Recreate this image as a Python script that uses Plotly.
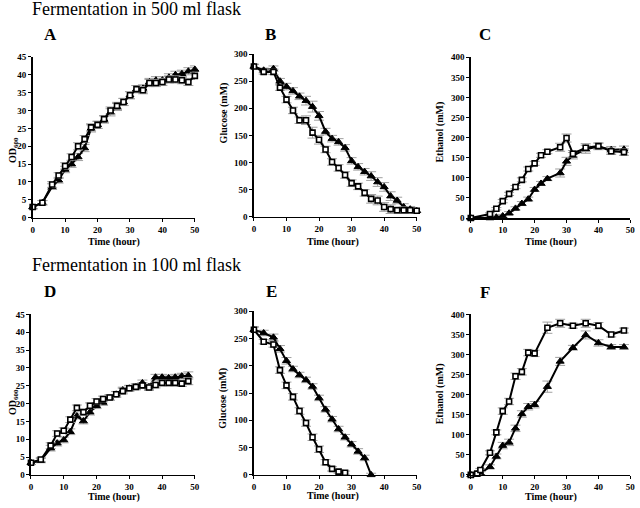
import plotly.graph_objects as go

# ---------------- data ----------------
tA = [0, 3, 6, 8, 10, 12, 14, 16, 18, 20, 22, 24, 26, 28, 30, 32, 34, 36, 38, 40, 42, 44, 46, 48, 50]
od500_sq = [3.0, 4.2, 9.3, 11.8, 14.5, 17.0, 20.0, 22.0, 25.3, 26.0, 27.6, 30.0, 31.3, 32.4, 34.3, 36.0, 35.7, 37.7, 37.7, 38.0, 38.7, 38.7, 38.5, 38.0, 39.7]
od500_tr = [3.0, 4.2, 8.7, 10.5, 13.5, 15.0, 17.0, 19.5, 25.0, 26.0, 27.5, 29.5, 31.0, 32.4, 34.3, 36.0, 36.2, 38.0, 38.5, 38.5, 39.3, 40.0, 40.3, 41.0, 41.5]
od500_err = [0.5, 0.6, 0.8, 0.8, 0.9, 0.9, 1.0, 1.0, 1.0, 1.0, 1.0, 1.0, 1.0, 1.0, 1.0, 1.0, 1.0, 1.0, 1.0, 1.0, 1.0, 1.0, 1.0, 1.0, 1.0]

glc500_sq = [277, 267, 267, 238, 216, 196, 178, 178, 155, 142, 124, 101, 90, 77, 62, 56, 44, 33, 30, 18, 14, 12, 12, 12, 11]
glc500_tr = [277, 270, 273, 250, 240, 232, 222, 214, 203, 186, 157, 144, 138, 127, 103, 92, 83, 75, 64, 55, 38, 30, 18, 14, 11]
glc500_err = [4, 4, 5, 5, 6, 6, 6, 8, 10, 8, 6, 6, 6, 6, 6, 6, 6, 8, 8, 8, 8, 6, 6, 5, 5]

tC = [0, 6, 8, 10, 12, 14, 16, 18, 20, 22, 24, 28, 30, 32, 36, 40, 44, 48]
eth500_sq = [0, 10, 23, 42, 60, 77, 95, 122, 136, 156, 165, 176, 199, 160, 175, 179, 166, 164]
eth500_tr = [0, 0, 2, 5, 12, 24, 36, 47, 71, 86, 98, 112, 141, 155, 171, 178, 170, 171]
eth500_err = [2, 3, 3, 4, 4, 4, 5, 5, 5, 5, 5, 10, 10, 8, 10, 8, 8, 8]

tD = [0, 3, 6, 8, 10, 12, 14, 16, 18, 20, 22, 24, 26, 28, 30, 32, 34, 36, 38, 40, 42, 44, 46, 48]
od100_sq = [3.4, 4.3, 8.2, 11.6, 12.4, 15.5, 18.8, 17.6, 19.4, 20.6, 21.3, 21.7, 22.6, 23.5, 24.3, 24.7, 25.1, 24.5, 25.2, 25.8, 25.8, 25.8, 25.6, 26.3]
od100_tr = [3.4, 4.0, 7.5, 8.9, 9.8, 12.1, 16.5, 15.1, 17.6, 19.4, 20.3, 21.7, 22.6, 23.8, 24.3, 24.7, 25.8, 24.7, 27.4, 27.4, 27.2, 27.4, 27.7, 27.9]
od100_err = [0.5, 0.6, 0.8, 0.8, 0.8, 0.8, 0.8, 0.8, 0.8, 0.8, 0.8, 0.8, 0.8, 0.8, 0.8, 0.8, 0.8, 0.8, 0.8, 0.8, 0.8, 0.8, 0.8, 1.0]

tE_sq = [0, 3, 6, 8, 10, 12, 14, 16, 18, 20, 22, 24, 26, 28]
glc100_sq = [266, 244, 239, 192, 164, 143, 117, 95, 69, 47, 23, 11, 6, 4]
glc100_sq_err = [5, 4, 5, 6, 6, 6, 6, 6, 6, 6, 5, 4, 3, 3]
tE_tr = [0, 3, 6, 8, 10, 12, 14, 16, 18, 20, 22, 24, 26, 28, 30, 32, 34, 36]
glc100_tr = [266, 260, 252, 231, 209, 194, 183, 174, 162, 141, 120, 102, 84, 69, 56, 43, 31, 0]
glc100_tr_err = [5, 5, 6, 6, 6, 5, 5, 5, 5, 5, 5, 5, 5, 5, 5, 5, 5, 3]

tF = [0, 2, 3, 6, 8, 10, 12, 14, 16, 18, 20, 24, 28, 32, 36, 40, 44, 48]
eth100_sq = [0, 3, 12, 55, 106, 159, 183, 246, 257, 305, 303, 367, 378, 372, 378, 372, 350, 360]
eth100_tr = [0, 2, 4, 20, 46, 73, 81, 116, 152, 170, 175, 220, 283, 317, 349, 329, 319, 319]
eth100_err = [2, 3, 4, 5, 6, 8, 8, 8, 8, 8, 8, 14, 10, 6, 10, 8, 6, 6]

x_ticks = [0, 10, 20, 30, 40, 50]

# ---------------- figure ----------------
W, H = 640, 508
fig = go.Figure()

def px_x(p):
    return p / W

def px_y(p):
    return 1 - p / H

panels = [
    ("A", (31, 195), (53, 217), 45, 5),
    ("B", (254.7, 419.3), (50, 216), 300, 50),
    ("C", (474, 635.3), (53.3, 217.3), 400, 50),
    ("D", (29.3, 195), (315.7, 479.3), 45, 5),
    ("E", (254.7, 419.3), (312.3, 479.3), 300, 50),
    ("F", (474, 635.3), (315.7, 479.3), 400, 50),
]

serif = "Liberation Serif"
tickfont = dict(family=serif, size=9, color="black", weight="bold")

for i, (name, xd, yd, ymax, dt) in enumerate(panels):
    n = "" if i == 0 else str(i + 1)
    fig.layout["xaxis" + n] = dict(
        domain=[px_x(xd[0]), px_x(xd[1])], anchor="y" + n, range=[0, 50],
        tickvals=x_ticks, ticks="outside", ticklen=3, tickwidth=1, tickcolor="black",
        showline=True, linecolor="black", linewidth=1.5, showgrid=False, zeroline=False,
        tickfont=tickfont, fixedrange=True, ticklabeloverflow="allow")
    fig.layout["yaxis" + n] = dict(
        domain=[px_y(yd[1]), px_y(yd[0])], anchor="x" + n, range=[0, ymax],
        dtick=dt, tick0=0, ticks="outside", ticklen=3, tickwidth=1, tickcolor="black",
        showline=True, linecolor="black", linewidth=1.5, showgrid=False, zeroline=False,
        tickfont=tickfont, fixedrange=True, ticklabeloverflow="allow")

def add_series(x, y, err, ax, sym):
    n = "" if ax == 1 else str(ax)
    if sym == "sq":
        marker = dict(symbol="square", size=5, color="white", line=dict(color="black", width=1.6))
    else:
        marker = dict(symbol="triangle-up", size=7, color="black", line=dict(color="black", width=1))
    fig.add_trace(go.Scatter(
        x=x, y=y, mode="lines+markers", xaxis="x" + n, yaxis="y" + n,
        line=dict(color="black", width=2), marker=marker,
        error_y=dict(type="data", array=err, visible=True, color="#a0a0a0", thickness=1, width=5),
        showlegend=False, cliponaxis=False, hoverinfo="skip"))

add_series(tA, od500_tr, od500_err, 1, "tr")
add_series(tA, od500_sq, od500_err, 1, "sq")
add_series(tA, glc500_tr, glc500_err, 2, "tr")
add_series(tA, glc500_sq, glc500_err, 2, "sq")
add_series(tC, eth500_tr, eth500_err, 3, "tr")
add_series(tC, eth500_sq, eth500_err, 3, "sq")
add_series(tD, od100_tr, od100_err, 4, "tr")
add_series(tD, od100_sq, od100_err, 4, "sq")
add_series(tE_tr, glc100_tr, glc100_tr_err, 5, "tr")
add_series(tE_sq, glc100_sq, glc100_sq_err, 5, "sq")
add_series(tF, eth100_tr, eth100_err, 6, "tr")
add_series(tF, eth100_sq, eth100_err, 6, "sq")

ann = []

def text(x, y, s, size, bold=False, angle=0, xanchor="center", yanchor="middle"):
    ann.append(dict(x=px_x(x), y=px_y(y), xref="paper", yref="paper", text=s, showarrow=False,
                    font=dict(family=serif, size=size, color="black", weight="bold" if bold else "normal"),
                    textangle=angle, xanchor=xanchor, yanchor=yanchor))

# section titles
text(28, 4, "Fermentation in 500 ml flask", 18, xanchor="left")
text(28, 265, "Fermentation in 100 ml flask", 18, xanchor="left")

# panel letters
for lab, x, y in [("A", 49, 30), ("B", 271, 30), ("C", 488, 30),
                  ("D", 49, 292), ("E", 272, 292), ("F", 488, 293)]:
    text(x, y, lab, 17, bold=True)

# x titles
for x, y in [(113, 242), (335, 242), (555, 242), (113, 502), (335, 501), (555, 502)]:
    text(x, y, "Time (hour)", 10, bold=True)

# y titles
text(11, 148, "OD<sub>600</sub>", 10, bold=True, angle=-90)
text(11, 405, "OD<sub>600</sub>", 10, bold=True, angle=-90)
text(224, 110, "Glucose (mM)", 10, bold=True, angle=-90)
text(224, 401, "Glucose (mM)", 10, bold=True, angle=-90)
text(443, 130, "Ethanol (mM)", 10, bold=True, angle=-90)
text(443, 397, "Ethanol (mM)", 10, bold=True, angle=-90)

fig.update_layout(width=W, height=H, margin=dict(l=0, r=0, t=0, b=0),
                  paper_bgcolor="white", plot_bgcolor="white", annotations=ann,
                  hovermode=False)

fig.write_html("out.html", config={"displayModeBar": False, "staticPlot": True},
               post_script="document.body.style.margin='0';document.body.style.overflow='hidden';")
